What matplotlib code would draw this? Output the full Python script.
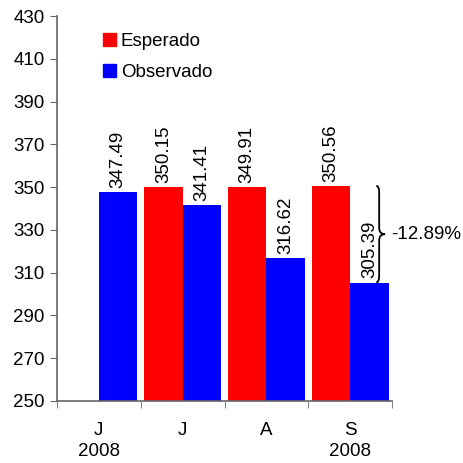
import matplotlib
matplotlib.use("Agg")
import matplotlib.pyplot as plt
import numpy as np
from matplotlib.path import Path
from matplotlib.patches import PathPatch, Patch

plt.rcParams["font.family"] = ["Liberation Sans", "DejaVu Sans"]

months = ["J\n2008", "J", "A", "S\n2008"]
esperado = [None, 350.15, 349.91, 350.56]
observado = [347.49, 341.41, 316.62, 305.39]
diff_label = "-12.89%"

FS = 13.5
AXC = "#666666"

fig = plt.figure(figsize=(4.63, 4.63), dpi=100)
ax = fig.add_axes([0.123, 0.134, 0.724, 0.8314])

x = np.arange(len(months))
w = 0.46
for i in x:
    if esperado[i] is not None:
        ax.bar(i - w / 2, esperado[i] - 250, w, bottom=250, color="#FF0000", linewidth=0)
        ax.annotate(f"{esperado[i]:.2f}", (i - w / 2, esperado[i]), xytext=(0, 3),
                    textcoords="offset points", rotation=90, ha="center", va="bottom", fontsize=FS)
    ax.bar(i + w / 2, observado[i] - 250, w, bottom=250, color="#0000FF", linewidth=0)
    ax.annotate(f"{observado[i]:.2f}", (i + w / 2, observado[i]), xytext=(0, 3),
                textcoords="offset points", rotation=90, ha="center", va="bottom", fontsize=FS)

ax.set_xlim(-0.5, 3.5)
ax.set_ylim(250, 430)
ax.set_yticks(np.arange(250, 431, 20))
ax.set_xticks(x)
ax.set_xticklabels(months, fontsize=FS, linespacing=1.3)
ax.set_xticks(np.arange(-0.5, 3.6, 1), minor=True)
ax.tick_params(axis="x", which="major", length=0, pad=15)
ax.tick_params(axis="x", which="minor", length=5, color=AXC, direction="out")
ax.tick_params(axis="y", length=5, color=AXC, labelsize=FS, pad=4)
for s in ["top", "right"]:
    ax.spines[s].set_visible(False)
for s in ["left", "bottom"]:
    ax.spines[s].set_color(AXC)
    ax.spines[s].set_linewidth(1.2)

# brace showing the gap in September
top, bot = esperado[3], observado[3]
mid = (top + bot) / 2
x0, x1, x2 = 3.31, 3.345, 3.415
r = 3.0
verts = [(x0, top), (x1, top), (x1, top - r), (x1, mid + r), (x1, mid), (x2, mid),
         (x1, mid), (x1, mid - r), (x1, bot + r), (x1, bot), (x0, bot)]
codes = [Path.MOVETO, Path.CURVE3, Path.CURVE3, Path.LINETO, Path.CURVE3, Path.CURVE3,
         Path.CURVE3, Path.CURVE3, Path.LINETO, Path.CURVE3, Path.CURVE3]
ax.add_patch(PathPatch(Path(verts, codes), fill=False, lw=1.3, color="black", clip_on=False))
ax.text(3.49, mid, diff_label, ha="left", va="center", fontsize=FS, clip_on=False)

handles = [Patch(color="#FF0000", label="Esperado"), Patch(color="#0000FF", label="Observado")]
ax.legend(handles=handles, loc="upper left", bbox_to_anchor=(0.115, 0.975), frameon=False,
          fontsize=FS, handlelength=0.7, handleheight=0.7, handletextpad=0.25,
          labelspacing=0.75, borderaxespad=0)

fig.savefig("out.png", dpi=100)
